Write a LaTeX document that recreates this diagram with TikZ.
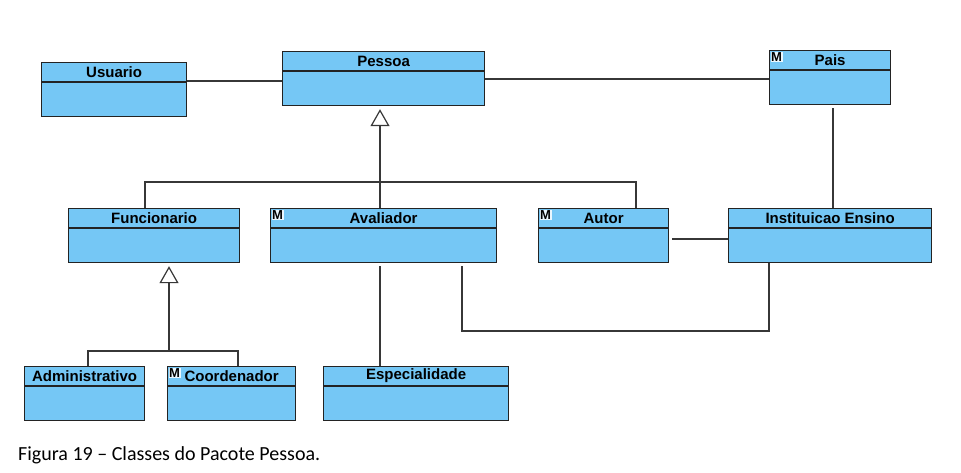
\documentclass[tikz,border=0pt]{standalone}
\usepackage{fontspec}
\setmainfont{Liberation Sans}
\newfontfamily\capfont{Carlito}
\usetikzlibrary{arrows.meta}
\definecolor{umlblue}{RGB}{117,199,245}
\definecolor{umledge}{RGB}{35,35,35}
\definecolor{umlwire}{RGB}{55,55,55}
\tikzset{
  classbody/.style={draw=umledge, fill=umlblue, line width=1.2pt, minimum height=54pt, inner sep=0pt},
  classline/.style={draw=umledge, line width=1.2pt},
  classname/.style={font=\bfseries\fontsize{15}{17}\selectfont, inner sep=0pt},
  mmark/.style={font=\bfseries\fontsize{13}{14}\selectfont, fill=white!85!umlblue, inner sep=0.5pt},
  wire/.style={draw=umlwire, line width=1.2pt},
  inherit/.style={wire, -{Triangle[open, width=19pt, length=17pt, fill=white]}, shorten >=3pt},
}
% name, left, top, width, label
\newcommand{\umlclass}[5]{%
  \node[classbody, minimum width=#4pt, anchor=north west] (#1) at (#2,#3) {};
  \draw[classline] ([yshift=-20pt]#1.north west) -- ([yshift=-20pt]#1.north east);
  \node[classname] (#1-name) at ([yshift=-10pt]#1.north) {#5};
}
\newcommand{\umlmark}[1]{%
  \node[mmark, anchor=north west] (#1-m) at ([shift={(1.5pt,-1.5pt)}]#1.north west) {M};
}
\begin{document}
\begin{tikzpicture}[x=1pt, y=-1pt]
\useasboundingbox (0,0) rectangle (961,473);
% classes
\umlclass{usuario}{41}{62}{145}{Usuario}
\umlclass{pessoa}{282}{51}{202}{Pessoa}
\umlclass{pais}{769}{50}{121}{Pais}
\umlmark{pais}
\umlclass{funcionario}{68}{208}{171}{Funcionario}
\umlclass{avaliador}{270}{208}{226}{Avaliador}
\umlmark{avaliador}
\umlclass{autor}{538}{208}{130}{Autor}
\umlmark{autor}
\umlclass{instituicao}{728}{208}{203}{Instituicao Ensino}
\umlclass{administrativo}{24}{366}{120}{Administrativo}
\umlclass{coordenador}{167}{366}{128}{Coordenador}
\umlmark{coordenador}
\umlclass{especialidade}{323}{366}{185}{Especialidade}
% associations
\draw[wire] (usuario.east |- 0,81) -- (pessoa.west |- 0,81);
\draw[wire] (pessoa.east |- 0,79) -- (pais.west |- 0,79);
\draw[wire] ([yshift=-3pt]pais.south -| 833,0) -- (instituicao.north -| 833,0);
\draw[wire] ([xshift=3pt]autor.east |- 0,239) -- (instituicao.west |- 0,239);
\draw[wire] ([yshift=-3pt]avaliador.south -| 380,0) -- (especialidade.north -| 380,0);
\coordinate (avl) at (462,331);
\coordinate (ins) at (769,331);
\draw[wire] ([yshift=-3pt]avaliador.south -| avl) -- (avl) -- (ins) -- (instituicao.south -| ins);
% generalizations
\coordinate (fl) at (145,182);
\coordinate (ar) at (636,182);
\draw[wire] (funcionario.north -| fl) -- (fl) -- (ar) -- (autor.north -| ar);
\draw[inherit] (avaliador.north -| 380,0) -- (pessoa.south -| 380,0);
\coordinate (adm) at (88,351);
\coordinate (crd) at (238,351);
\coordinate (fun) at (169,351);
\draw[wire] (administrativo.north -| adm) -- (adm) -- (crd) -- (coordenador.north -| crd);
\draw[inherit] (fun) -- (funcionario.south -| fun);
% caption
\node[font=\capfont\fontsize{20}{22}\selectfont, anchor=base west, inner sep=0pt] (caption) at (18,460) {Figura 19 – Classes do Pacote Pessoa.};
\end{tikzpicture}
\end{document}
